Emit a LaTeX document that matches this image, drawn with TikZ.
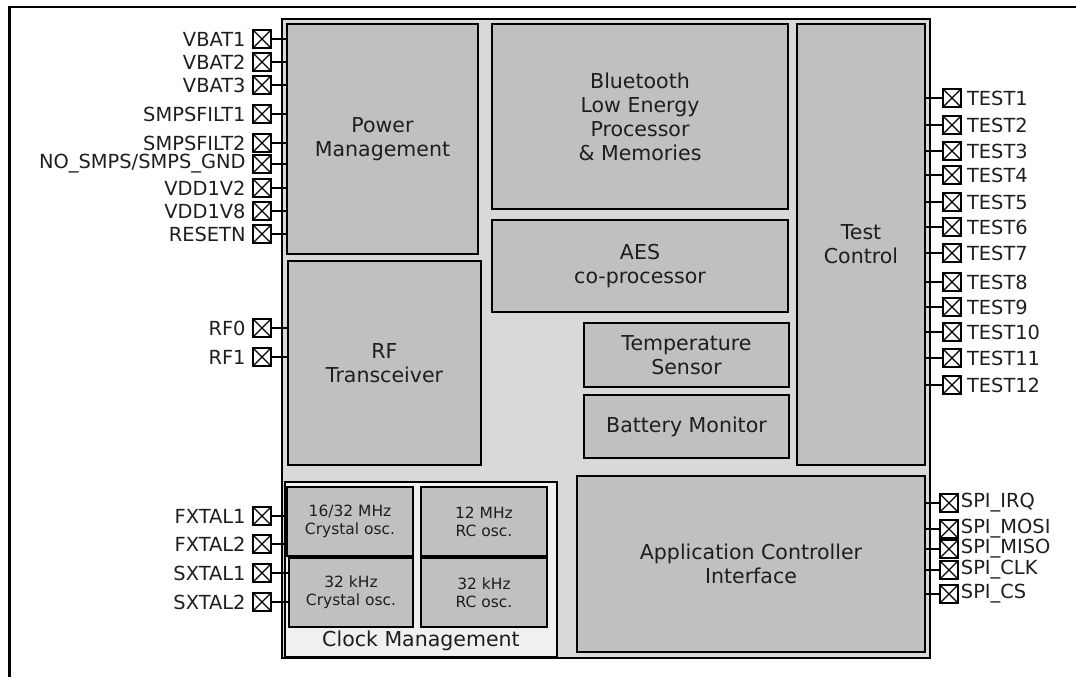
\documentclass[tikz,border=0pt]{standalone}
\usepackage{fontspec}
\setmainfont{DejaVu Sans}
\usetikzlibrary{positioning,fit}
\definecolor{chipfundo}{HTML}{D9D9D9}
\definecolor{blocofundo}{HTML}{C0C0C0}
\definecolor{relogiofundo}{HTML}{F0F0F0}
\definecolor{texto}{HTML}{1E1E1E}

\begin{document}
\begin{tikzpicture}[x=0.025cm, y=-0.025cm,
    bloco/.style={draw, line width=1.4pt, fill=blocofundo, inner sep=0pt},
    txtbloco/.style={align=center, inner sep=0pt, text=texto, font=\fontsize{14.6}{17}\selectfont},
    txtosc/.style={txtbloco, font=\fontsize{11}{13}\selectfont},
    pino/.style={draw, line width=1.4pt, fill=white, minimum size=12.6pt, inner sep=0pt,
      path picture={\draw[line width=0.8pt]
        (path picture bounding box.north west) -- (path picture bounding box.south east)
        (path picture bounding box.south west) -- (path picture bounding box.north east);}},
    rotulo/.style={inner sep=1pt, text=texto, font=\fontsize{13.8}{16}\selectfont},
    fio/.style={line width=0.8pt}]

  \useasboundingbox (0,0) rectangle (1076,677);
  \draw[line width=1.8pt] (9.5,677) -- (9.5,7) -- (1076,7);  % moldura da figura

  % 1. Corpo do chip e blocos internos
  \node[draw, line width=1.4pt, fill=chipfundo, inner sep=0pt, fit={(282,19) (930,658)}] (chip) {};

  \node[bloco, fit={(287,24) (478,254)}] (pm) {};
  \node[bloco, fit={(492,24) (788,209)}] (ble) {};
  \node[bloco, fit={(797,24) (925,465)}] (tc) {};
  \node[bloco, fit={(492,220) (788,312)}] (aes) {};
  \node[bloco, fit={(288,261) (481,465)}] (rf) {};
  \node[bloco, fit={(584,323) (789,387)}] (temp) {};
  \node[bloco, fit={(584,395) (789,458)}] (bat) {};
  \node[bloco, fit={(577,476) (925,652)}] (aci) {};

  \node[txtbloco] (pmt) at (pm) {Power\\Management};
  \node[txtbloco] (blet) at (ble) {Bluetooth\\Low Energy\\Processor\\\& Memories};
  \node[txtbloco] (tct) at (tc) {Test\\Control};
  \node[txtbloco] (aest) at (aes) {AES\\co-processor};
  \node[txtbloco] (rft) at (rf) {RF\\Transceiver};
  \node[txtbloco] (tempt) at (temp) {Temperature\\Sensor};
  \node[txtbloco] (batt) at (bat) {Battery Monitor};
  \node[txtbloco] (acit) at (aci) {Application Controller\\Interface};

  % 2. Gerenciamento de relógio
  \node[bloco, fill=relogiofundo, fit={(285,482) (557,657)}] (relogio) {};
  \node[bloco, fit={(287,487) (413,556)}] (osc1) {};
  \node[bloco, fit={(421,487) (547,556)}] (osc2) {};
  \node[bloco, fit={(289,558) (413,627)}] (osc3) {};
  \node[bloco, fit={(421,558) (547,627)}] (osc4) {};
  \node[txtosc] (osc1t) at (osc1) {16/32 MHz\\Crystal osc.};
  \node[txtosc] (osc2t) at (osc2) {12 MHz\\RC osc.};
  \node[txtosc] (osc3t) at (osc3) {32 kHz\\Crystal osc.};
  \node[txtosc] (osc4t) at (osc4) {32 kHz\\RC osc.};
  \node[txtbloco] (relt) at (421,641) {Clock Management};

  % 3. Pinos do lado esquerdo
  \foreach \y/\nome/\bloco [count=\i] in {39/VBAT1/pm, 62/VBAT2/pm, 85/VBAT3/pm,
      114/SMPSFILT1/pm, 143/SMPSFILT2/pm, 164/{NO\_SMPS/SMPS\_GND}/pm,
      188/VDD1V2/pm, 211/VDD1V8/pm, 234/RESETN/pm, 328/RF0/rf, 357/RF1/rf,
      516/FXTAL1/osc1, 544/FXTAL2/osc1, 573/SXTAL1/osc3, 602/SXTAL2/osc3} {
    \node[pino] (pe\i) at (262,\y) {};
    \node[rotulo, left=3.5pt of pe\i] (re\i) {\nome};
    \draw[fio] (pe\i.east) -- (pe\i.east -| \bloco.west);  % ligação ao bloco
  }

  % 4. Pinos de teste
  \foreach \y [count=\i] in {98,125,151,175,202,227,253,282,307,332,358,385} {
    \node[pino] (tp\i) at (952,\y) {};
    \node[rotulo, right=2.5pt of tp\i] (rt\i) {TEST\i};
    \draw[fio] (tp\i.west) -- (tp\i.west -| tc.east);
  }

  % 5. Interface SPI
  \foreach \y/\nome [count=\i] in {503/SPI\_IRQ, 529/SPI\_MOSI, 549/SPI\_MISO,
      570/SPI\_CLK, 594/SPI\_CS} {
    \node[pino] (sp\i) at (949,\y) {};
    \node[rotulo, right=0.3pt of sp\i] (rs\i) {\nome};
    \draw[fio] (sp\i.west) -- (sp\i.west -| aci.east);
  }

\end{tikzpicture}
\end{document}
